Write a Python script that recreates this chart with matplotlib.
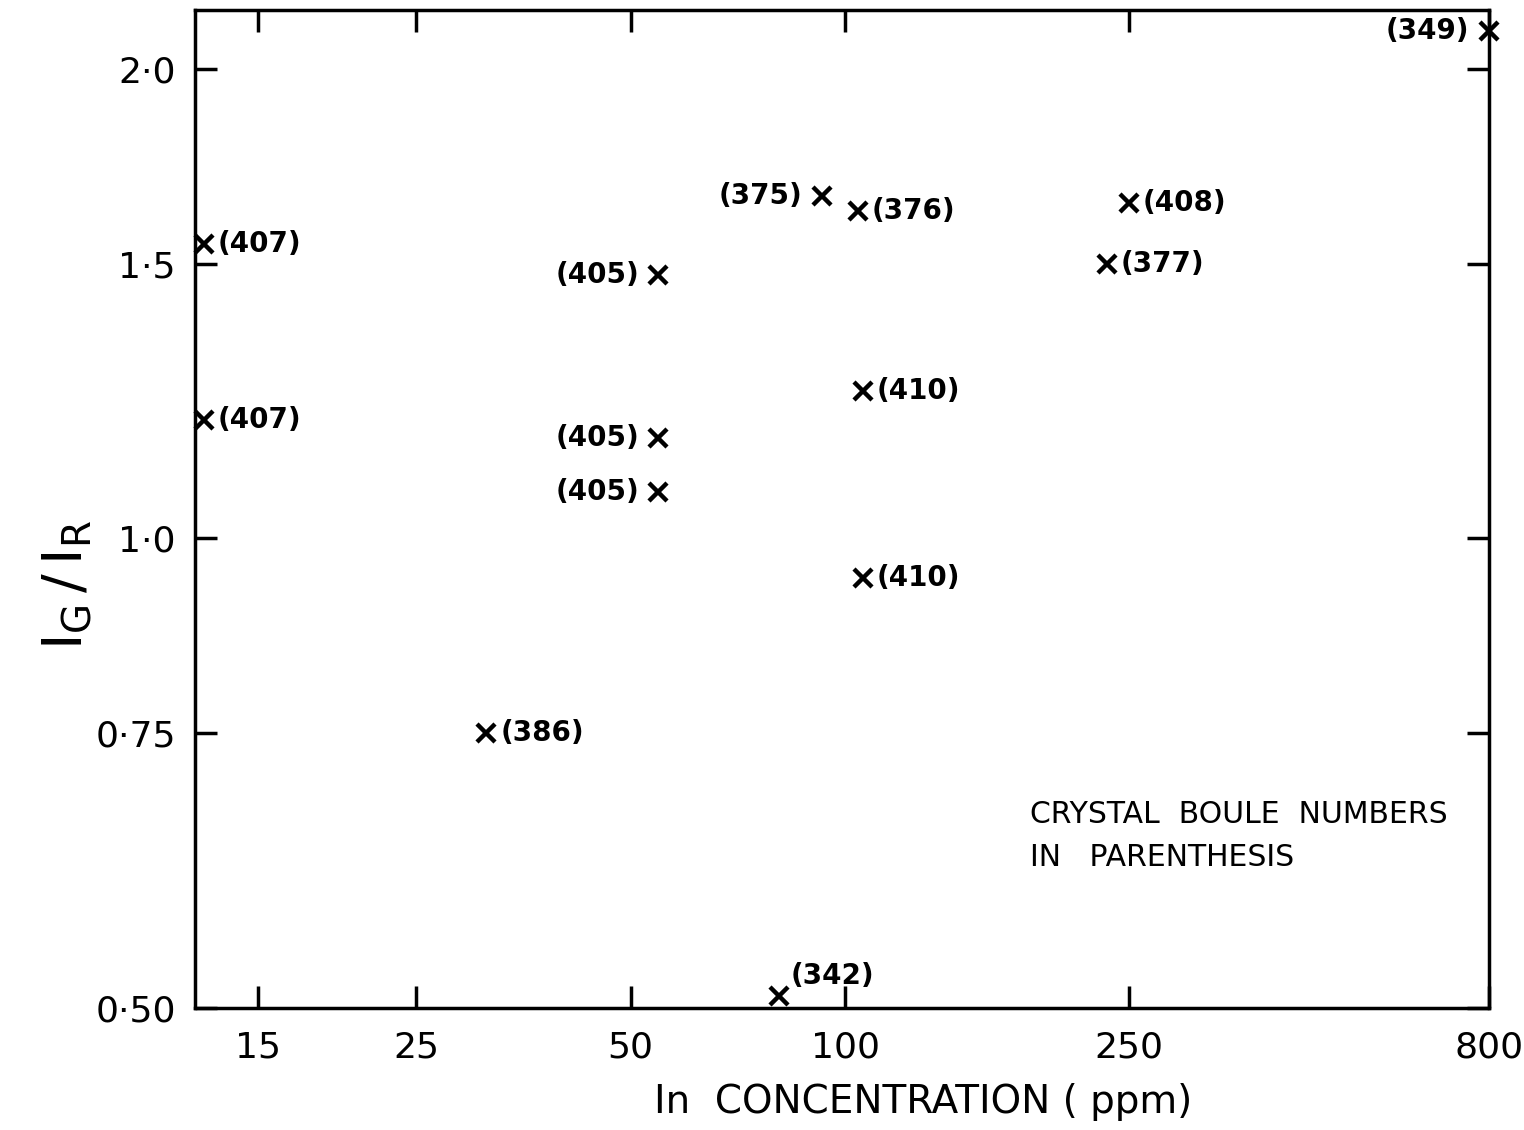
import matplotlib
matplotlib.use("Agg")
import matplotlib.pyplot as plt
from matplotlib.ticker import FixedLocator, FixedFormatter, NullLocator

# In concentration (ppm) and green/red intensity ratio for each crystal boule
conc = [12.6, 12.6, 31.4, 54.7, 54.7, 54.7, 92.8, 104.3, 250, 232.8, 106, 106, 80.8, 800]
ratio = [1.543, 1.19, 0.75, 1.475, 1.16, 1.07, 1.657, 1.622, 1.641, 1.5, 1.243, 0.943, 0.509, 2.115]
boule = ["407", "407", "386", "405", "405", "405", "375", "376", "408", "377", "410", "410", "342", "349"]
side = ["r", "r", "r", "l", "l", "l", "l", "r", "r", "r", "r", "r", "a", "l"]

xticks = [15, 25, 50, 100, 250, 800]
xtick_labels = ["15", "25", "50", "100", "250", "800"]
yticks = [0.5, 0.75, 1.0, 1.5, 2.0]
ytick_labels = ["0·50", "0·75", "1·0", "1·5", "2·0"]

fig = plt.figure(figsize=(15.24, 11.3), dpi=100)
ax = fig.add_axes([0.128, 0.108, 0.849, 0.883])
ax.set_xscale("log")
ax.set_yscale("log")
ax.set_xlim(12.25, 800)
ax.set_ylim(0.5, 2.18)

ax.plot(conc, ratio, linestyle="none", marker="x", color="black",
        markersize=13, markeredgewidth=3.2, clip_on=False)

lab_kw = dict(fontsize=20, fontweight="bold", color="black", va="center")
for x, y, b, s in zip(conc, ratio, boule, side):
    t = f"({b})"
    if s == "r":
        ax.annotate(t, (x, y), xytext=(10, 0), textcoords="offset points", ha="left", **lab_kw)
    elif s == "l":
        ax.annotate(t, (x, y), xytext=(-14, 0), textcoords="offset points", ha="right", **lab_kw)
    else:
        ax.annotate(t, (x, y), xytext=(8, 14), textcoords="offset points", ha="left", **lab_kw)

ax.xaxis.set_major_locator(FixedLocator(xticks))
ax.xaxis.set_major_formatter(FixedFormatter(xtick_labels))
ax.xaxis.set_minor_locator(NullLocator())
ax.yaxis.set_major_locator(FixedLocator(yticks))
ax.yaxis.set_major_formatter(FixedFormatter(ytick_labels))
ax.yaxis.set_minor_locator(NullLocator())

ax.tick_params(axis="both", which="major", direction="in", length=16, width=2.5,
               top=True, right=True, labelsize=26, colors="black")
ax.tick_params(axis="x", pad=16)
ax.tick_params(axis="y", pad=14)
for sp in ax.spines.values():
    sp.set_linewidth(2.5)

ax.set_xlabel("In  CONCENTRATION ( ppm)", fontsize=28)
ax.xaxis.set_label_coords(0.563, -0.075)
ax.set_ylabel(r"$\mathregular{I_G\,/\,I_R}$", fontsize=40)
ax.yaxis.set_label_coords(-0.078, 0.424)

ax.text(0.645, 0.208, "CRYSTAL  BOULE  NUMBERS\nIN   PARENTHESIS", transform=ax.transAxes,
        fontsize=21.5, ha="left", va="top", linespacing=1.6)

fig.savefig("out.png", dpi=100)
